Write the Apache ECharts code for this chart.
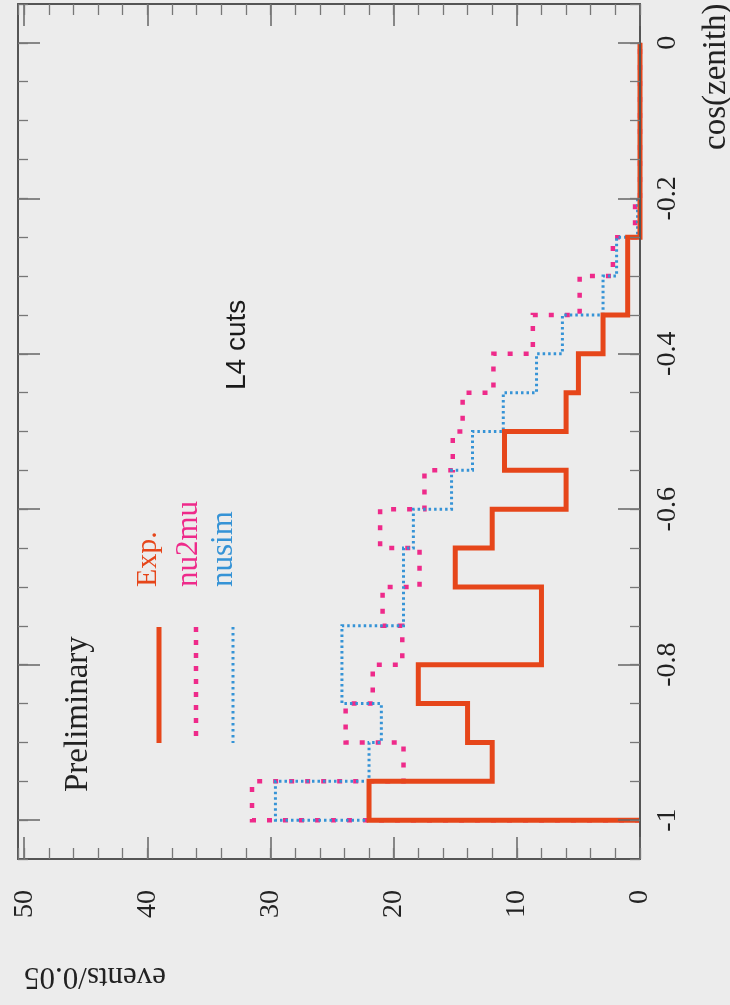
<!DOCTYPE html>
<html><head><meta charset="utf-8">
<script src="https://cdn.jsdelivr.net/npm/echarts@6/dist/echarts.min.js"></script>
<style>html,body{margin:0;padding:0;background:#ececec}#c{width:730px;height:1005px}</style>
</head><body><div id="c"></div>
<script>
// ---- data (histograms of cos(zenith), bin width 0.05) ----
const binEdges = [-1.00,-0.95,-0.90,-0.85,-0.80,-0.75,-0.70,-0.65,-0.60,-0.55,-0.50,-0.45,-0.40,-0.35,-0.30,-0.25,-0.20,-0.15,-0.10,-0.05,0.00];
const expCounts   = [22,12,14,18,8,8,15,12,6,11,6,5,3,1,1,0,0,0,0,0];
const nu2muCounts = [31.5,19.2,23.9,21.7,19.3,20.9,17.9,21.1,17.5,15.2,14.4,11.9,8.7,4.9,2.2,0.4,0,0,0,0];
const nusimCounts = [29.6,22.0,21.0,24.2,24.2,19.2,19.2,18.4,15.3,13.6,11.1,8.4,6.3,3.0,1.9,0.2,0,0,0,0];
const cosTicks = [-1,-0.8,-0.6,-0.4,-0.2,0];
const eventTicks = [0,10,20,30,40,50];
const seriesNames = ['Exp.','nu2mu','nusim'];
const xTitle = 'cos(zenith)';
const yTitle = 'events/0.05';

// ---- styles ----
const C_EXP = '#e6461a', C_NU2 = '#ee2a8a', C_SIM = '#3593d6';
const SERIF = 'Liberation Serif';
const frameLine = {show:true, onZero:false, lineStyle:{color:'#555', width:2}};

function outline(counts){
  const pts = [[0, binEdges[0]]];
  counts.forEach((v,i)=>{ pts.push([v, binEdges[i]], [v, binEdges[i+1]]); });
  pts.push([0, binEdges[binEdges.length-1]]);
  return pts;
}
function evAxis(pos, major, labels){
  const a = {type:'value', position:pos, inverse:true, min:0, max:50.5, z:5,
    axisLine: major ? frameLine : {show:false, onZero:false},
    axisTick: major ? {show:true, inside:true, length:22, customValues:eventTicks, lineStyle:{color:'#666', width:1.5}}
                    : {show:true, inside:true, length:11, lineStyle:{color:'#777', width:1.3}},
    axisLabel: labels ? {show:true, customValues:eventTicks, rotate:90, margin:31, fontFamily:SERIF, fontSize:28, color:'#222'} : {show:false},
    splitLine:{show:false}};
  if(!major) a.interval = 2;
  return a;
}
function cosAxis(pos, major, labels){
  const a = {type:'value', position:pos, min:-1.05, max:0.05, z:5,
    axisLine: major ? frameLine : {show:false, onZero:false},
    axisTick: major ? {show:true, inside:true, length:22, customValues:cosTicks, lineStyle:{color:'#666', width:1.5}}
                    : {show:true, inside:true, length:10, lineStyle:{color:'#777', width:1.3}},
    axisLabel: labels ? {show:true, customValues:cosTicks, rotate:90, margin:14, fontFamily:SERIF, fontSize:28, color:'#222'} : {show:false},
    splitLine:{show:false}};
  if(!major) a.interval = 0.05;
  return a;
}
function rtext(x, y, text, size, family, fill, align, rot){
  return {type:'text', x:x, y:y, rotation: rot, silent:true,
    style:{text:text, fontSize:size, fontFamily:family, fill:fill, align:align, verticalAlign:'middle'}};
}
function sample(x, color, width, dash){
  return {type:'line', silent:true, shape:{x1:x, y1:627, x2:x, y2:743},
    style:{stroke:color, lineWidth:width, lineDash:dash}};
}

const chart = echarts.init(document.getElementById('c'), null, {renderer:'canvas'});
chart.setOption({
  animation:false,
  backgroundColor:'#ececec',
  grid:{left:18, right:90, top:4, bottom:146, outerBoundsMode:'none'},
  xAxis:[evAxis('bottom',true,true), evAxis('bottom',false,false), evAxis('top',true,false), evAxis('top',false,false)],
  yAxis:[cosAxis('right',true,true), cosAxis('right',false,false), cosAxis('left',true,false), cosAxis('left',false,false)],
  series:[
    {name:seriesNames[1], type:'line', z:2, xAxisIndex:0, yAxisIndex:0, data:outline(nu2muCounts), showSymbol:false, symbol:'none',
      lineStyle:{color:C_NU2, width:4.5, type:[5,11], cap:'butt', join:'miter'}},
    {name:seriesNames[2], type:'line', z:2, xAxisIndex:0, yAxisIndex:0, data:outline(nusimCounts), showSymbol:false, symbol:'none',
      lineStyle:{color:C_SIM, width:3, type:[2.5,3], cap:'butt', join:'miter'}},
    {name:seriesNames[0], type:'line', z:2, xAxisIndex:0, yAxisIndex:0, data:outline(expCounts), showSymbol:false, symbol:'none',
      lineStyle:{color:C_EXP, width:5, join:'miter'}}
  ],
  graphic:[
    rtext(716, 150, xTitle, 33, SERIF, '#222', 'left', Math.PI/2),
    rtext(95, 976, yTitle, 31, SERIF, '#222', 'center', Math.PI),
    rtext(78, 792, 'Preliminary', 33, SERIF, '#222', 'left', Math.PI/2),
    rtext(237, 390, 'L4 cuts', 28, 'Liberation Sans', '#1a1a1a', 'left', Math.PI/2),
    rtext(148, 587, seriesNames[0], 30, SERIF, C_EXP, 'left', Math.PI/2),
    rtext(189, 587, seriesNames[1], 31, SERIF, C_NU2, 'left', Math.PI/2),
    rtext(224, 587, seriesNames[2], 31, SERIF, C_SIM, 'left', Math.PI/2),
    sample(159, C_EXP, 5, null),
    sample(196, C_NU2, 4.5, [5,8]),
    sample(233, C_SIM, 3, [2.5,3.5])
  ]
});
</script></body></html>
